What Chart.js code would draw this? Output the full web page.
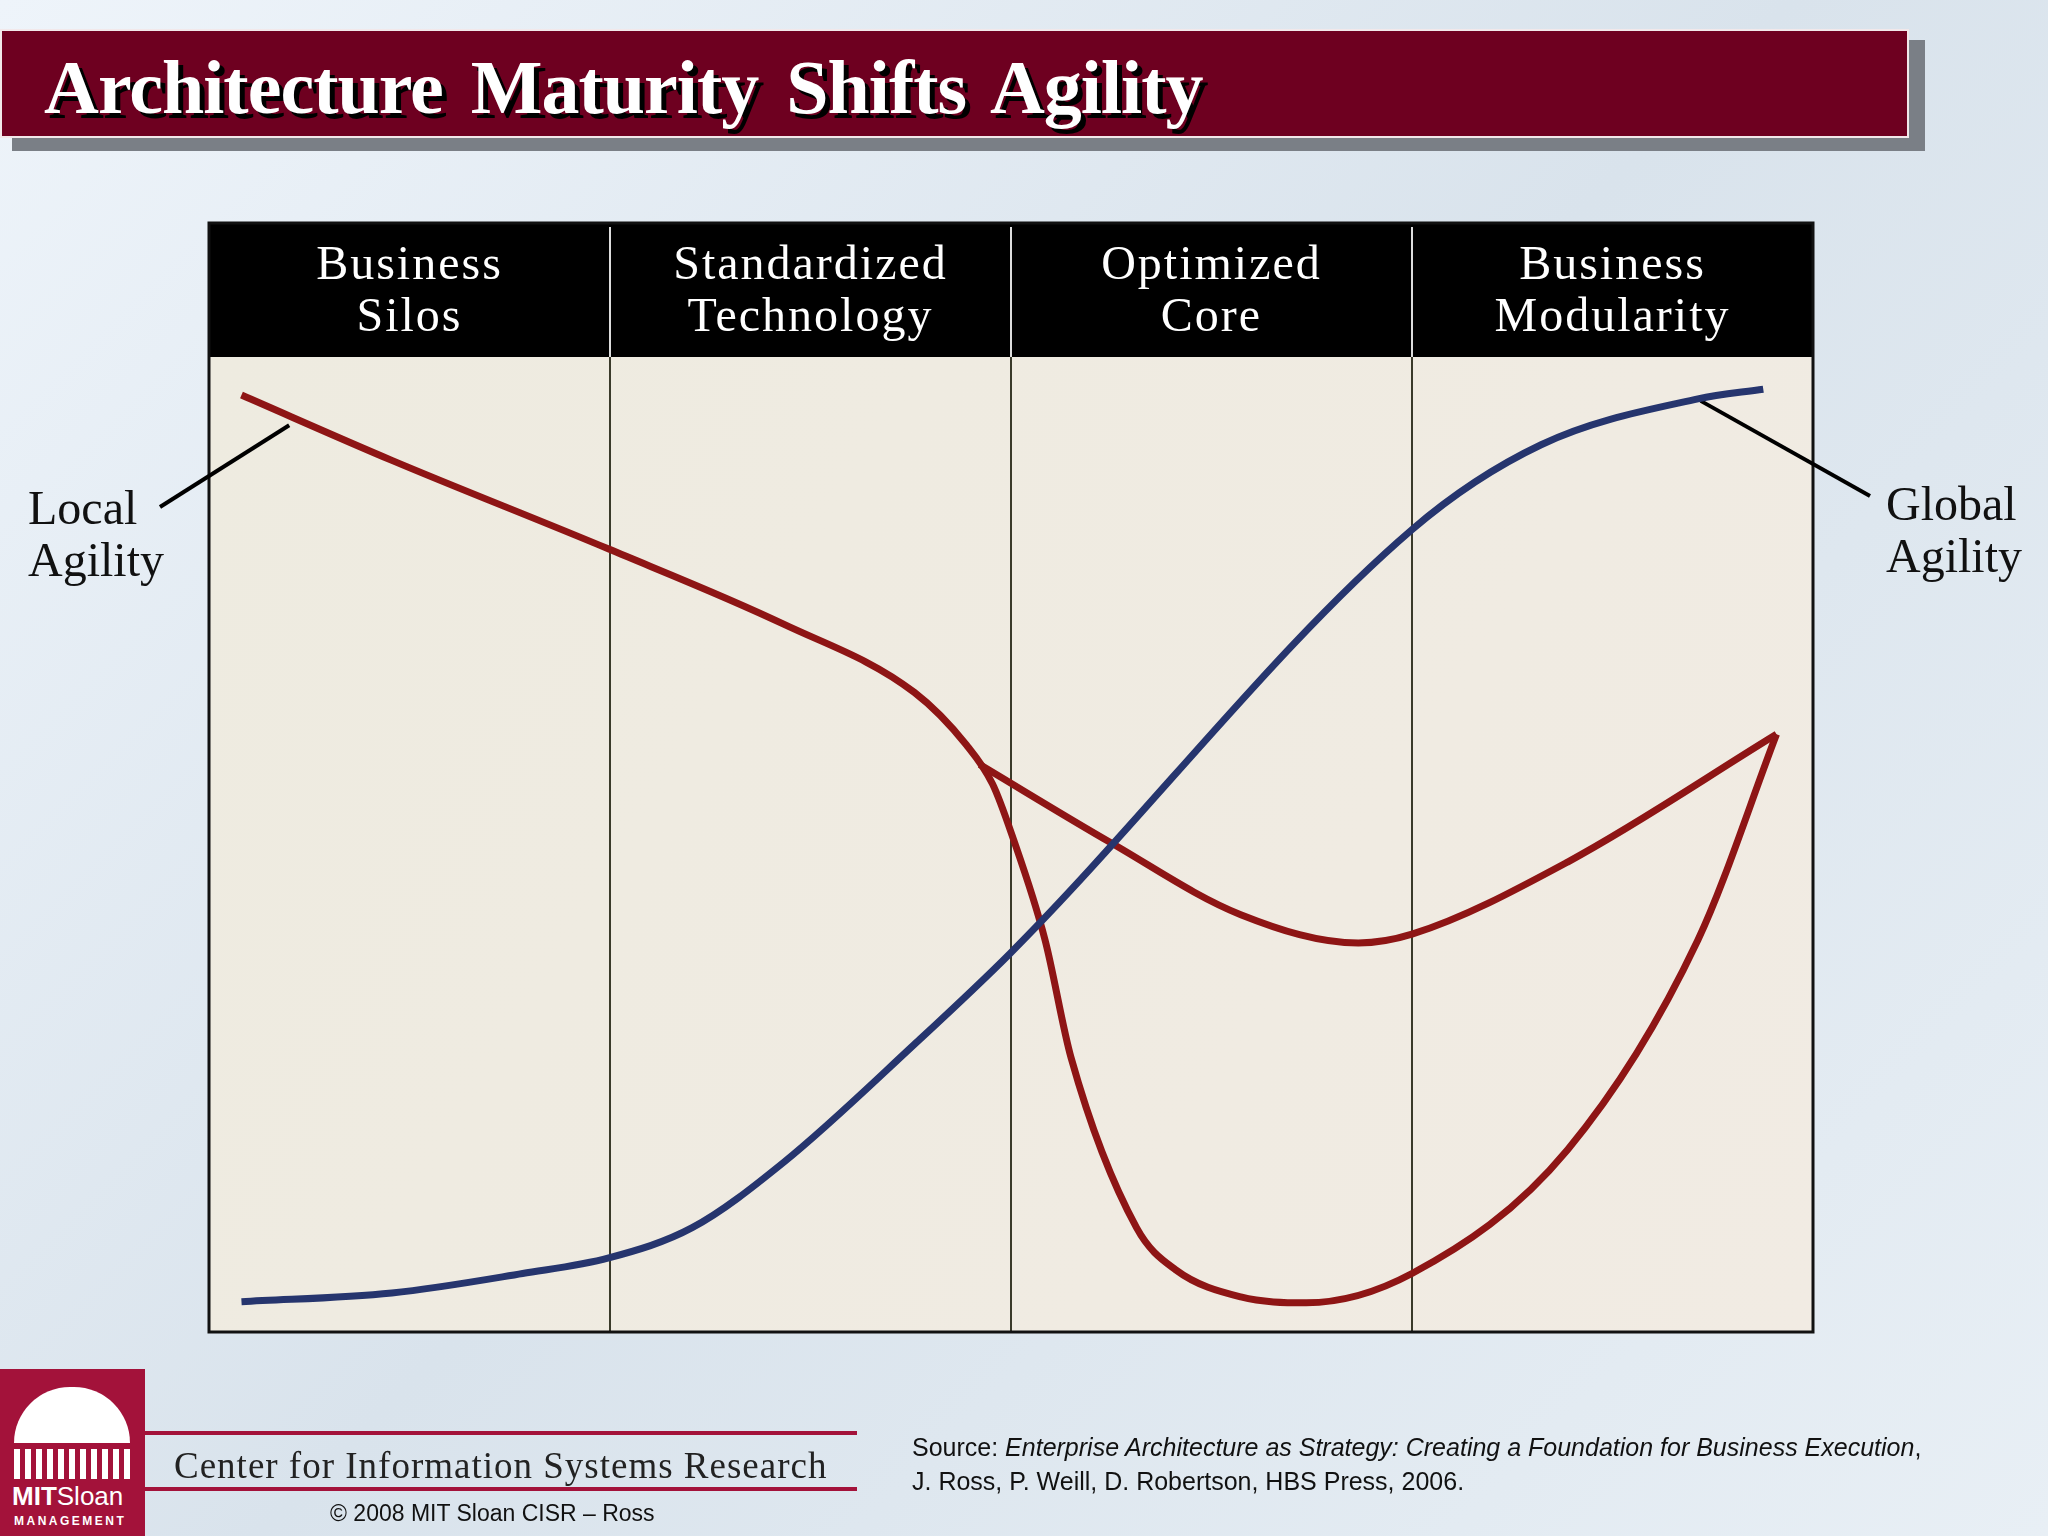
<!DOCTYPE html>
<html><head><meta charset="utf-8">
<script src="https://cdn.jsdelivr.net/npm/chart.js@4"></script>
<style>
html,body{margin:0;padding:0;width:2048px;height:1536px;overflow:hidden;
background:linear-gradient(135deg,#eef4fa 0%,#d9e3ec 50%,#e8eff5 100%);font-family:"Liberation Serif",serif;}
#c{position:absolute;left:0;top:0;width:2048px;height:1536px;}
.abs{position:absolute;}
#shadow{left:12px;top:40px;width:1913px;height:111px;background:#7a7f86;}
#banner{left:0;top:29px;width:1909px;height:109px;background:#6e0020;border:2px solid #f2e8ea;box-sizing:border-box;}
#title{left:44px;top:44px;font-size:76px;font-weight:bold;color:#fff;letter-spacing:-1px;word-spacing:10px;text-shadow:5px 5px 0 #000;white-space:nowrap;}
.side{font-size:48px;color:#111;line-height:52px;}
#logo{left:0;top:1369px;width:145px;height:167px;background:#a3123a;color:#fff;font-family:"Liberation Sans",sans-serif;}
.rl{height:4px;background:#a3123a;left:145px;width:712px;}
</style></head><body>
<div class="abs" id="shadow"></div>
<div class="abs" id="banner"></div>
<div class="abs" id="title">Architecture Maturity Shifts Agility</div>
<canvas id="c" width="2048" height="1536"></canvas>
<div class="abs side" style="left:28px;top:482px;">Local<br>Agility</div>
<div class="abs side" style="left:1886px;top:478px;">Global<br>Agility</div>
<div class="abs" id="logo">
 <div style="position:absolute;left:14px;top:18px;width:116px;height:56px;border-radius:58px 58px 0 0;background:#fff;"></div>
 <div style="position:absolute;left:14px;top:80px;width:116px;height:30px;background:repeating-linear-gradient(90deg,#fff 0 6px,transparent 6px 11px);"></div>
 <div style="position:absolute;left:12px;top:112px;font-size:26px;"><b>MIT</b>Sloan</div>
 <div style="position:absolute;left:14px;top:145px;font-size:12px;letter-spacing:2.5px;font-weight:bold;">MANAGEMENT</div>
</div>
<div class="abs rl" style="top:1431px;"></div>
<div class="abs rl" style="top:1487px;"></div>
<div class="abs" style="left:174px;top:1444px;font-size:37px;color:#222;letter-spacing:1px;">Center for Information Systems Research</div>
<div class="abs" style="left:330px;top:1500px;font-size:23px;color:#111;font-family:'Liberation Sans',sans-serif;">© 2008 MIT Sloan CISR – Ross</div>
<div class="abs" style="left:912px;top:1430px;font-size:25px;color:#111;font-family:'Liberation Sans',sans-serif;line-height:34px;">Source: <i>Enterprise Architecture as Strategy: Creating a Foundation for Business Execution</i>,<br>J. Ross, P. Weill, D. Robertson, HBS Press, 2006.</div>
<script>
const categories=[["Business","Silos"],["Standardized","Technology"],["Optimized","Core"],["Business","Modularity"]];
const globalX=[0.081,0.456,0.782,0.997,1.205,1.433,1.759,1.997,3.0,3.322,3.713,3.876];
const globalY=[3.1,4.0,6.0,7.6,10.7,17.4,29.5,38.8,82.3,91.0,95.7,96.7];
const localX=[0.081,0.456,0.997,1.433,1.759,1.889,1.954,2.003,2.085,2.150,2.313,2.410,2.573,2.736,3.0,3.388,3.713,3.909];
const localY=[96.1,89.4,80.3,72.6,65.6,60.2,56.2,50.9,40.2,28.1,10.7,6.4,3.6,3.0,6.0,18.7,40.2,61.3];
const upperX=[1.922,2.248,2.573,2.866,3.0,3.388,3.909];
const upperY=[58.2,50.2,42.8,39.9,40.8,48.2,61.3];
const pts=(xs,ys)=>xs.map((x,i)=>({x,y:ys[i]}));
const RED='#8e1515',BLUE='#26356e';
const deco={id:'deco',
 beforeDatasetsDraw(ch){const {ctx,chartArea:a,scales:{x,y}}=ch;ctx.save();
  const g=ctx.createLinearGradient(a.left,a.top,a.right,a.bottom);g.addColorStop(0,'#eeebe0');g.addColorStop(1,'#f1ebe3');
  ctx.fillStyle=g;ctx.fillRect(a.left,a.top,a.right-a.left,a.bottom-a.top);
  const ht=134;ctx.fillStyle='#000';ctx.fillRect(a.left,a.top-ht,a.right-a.left,ht);
  ctx.strokeStyle='#3a3a2a';ctx.lineWidth=2;
  for(let i=1;i<4;i++){const px=x.getPixelForValue(i);ctx.beginPath();ctx.moveTo(px,a.top);ctx.lineTo(px,a.bottom);ctx.stroke();
   ctx.strokeStyle='#ddd';ctx.beginPath();ctx.moveTo(px,a.top-ht+4);ctx.lineTo(px,a.top);ctx.stroke();ctx.strokeStyle='#3a3a2a';}
  ctx.strokeStyle='#111';ctx.lineWidth=3;ctx.strokeRect(a.left,a.top-ht,a.right-a.left,a.bottom-a.top+ht);
  ctx.fillStyle='#fff';ctx.font='48px "Liberation Serif"';ctx.textAlign='center';ctx.textBaseline='middle';
  if(ctx.letterSpacing!==undefined)ctx.letterSpacing='2px';
  categories.forEach((c,i)=>{const cx=x.getPixelForValue(i+0.5);ctx.fillText(c[0],cx,a.top-ht+43);ctx.fillText(c[1],cx,a.top-ht+95);});
  ctx.strokeStyle='#000';ctx.lineWidth=4;
  ctx.beginPath();ctx.moveTo(160,507);ctx.lineTo(x.getPixelForValue(0.2),y.getPixelForValue(93));ctx.stroke();
  ctx.beginPath();ctx.moveTo(1870,496);ctx.lineTo(x.getPixelForValue(3.72),y.getPixelForValue(95.5));ctx.stroke();
  ctx.restore();}};
new Chart(document.getElementById('c'),{type:'scatter',
 data:{datasets:[
  {data:pts(globalX,globalY),borderColor:BLUE},
  {data:pts(localX,localY),borderColor:RED},
  {data:pts(upperX,upperY),borderColor:RED}]},
 options:{responsive:false,animation:false,
  layout:{padding:{left:209,right:235,top:357,bottom:204}},
  elements:{line:{borderWidth:7,tension:0.4,fill:false,cubicInterpolationMode:'monotone'},point:{radius:0}},
  datasets:{scatter:{showLine:true}},
  scales:{x:{type:'linear',min:0,max:4,display:false},y:{min:0,max:100,display:false}},
  plugins:{legend:{display:false},tooltip:{enabled:false}}},
 plugins:[deco]});
</script></body></html>
